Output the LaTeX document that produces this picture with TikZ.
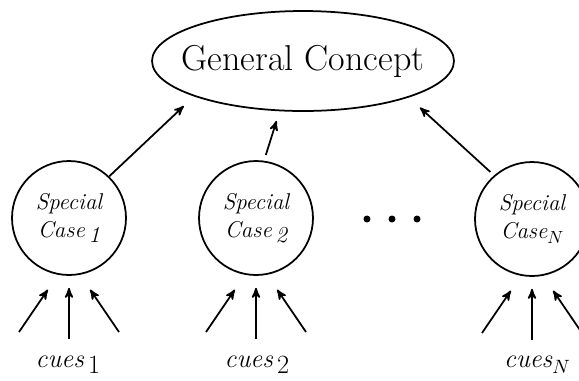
\documentclass[tikz,border=0pt]{standalone}
\usepackage{tikz}
\usetikzlibrary{
        arrows,
        calc,
        positioning,
        shapes.geometric
    }
\tikzset{>=stealth'}
\newcommand{\lowidx}[1]{\raisebox{-0.55ex}{#1}}

\begin{document}
\begin{tikzpicture}[x=0.02cm,y=-0.02cm,line width=1pt,
        concept/.style={ellipse,draw,minimum width=6.04cm,minimum height=2cm,
            inner xsep=-25pt,inner ysep=0pt,font=\fontsize{20.5}{24}\selectfont},
        case/.style={circle,draw,minimum size=2.28cm,inner sep=0pt,align=center,
            font=\fontsize{13}{16}\selectfont\itshape},
        cue/.style={anchor=base,font=\fontsize{15}{18}\selectfont\itshape},
        dot/.style={circle,fill,inner sep=0pt,minimum size=0.14cm}]
    \useasboundingbox (0,0) rectangle (579,380);
    \node[concept] (gc) at (303,61) {General Concept};
    \node[case] (c1) at (69,218) {Special\\Case\,\lowidx{1}};
    \node[case] (c2) at (256,218) {Special\\Case\,\lowidx{2}};
    \node[case] (cN) at (532,219) {Special\\Case\lowidx{\fontsize{10}{12}\selectfont$N$}};
    \node[dot] (d1) at (367,219) {};
    \node[dot] (d2) at (392,219) {};
    \node[dot] (d3) at (417,219) {};
    \node[cue] (q1) at (68,367) {cues\,\lowidx{\upshape 1}};
    \node[cue] (q2) at (257,367) {cues\,\lowidx{\upshape 2}};
    \node[cue] (qN) at (537,367) {cues\lowidx{\fontsize{11}{13}\selectfont$N$}};
    \draw[->,shorten >=0.28cm] (c1.46) -- (gc.198);
    \draw[->,shorten <=0.12cm,shorten >=0.2cm] (c2.82) -- (gc.245);
    \draw[->,shorten <=0.1cm,shorten >=0.3cm] (cN.131) -- (gc.341);
    % cues point up into each case
    \foreach \n in {1,2,N} {
        \coordinate (l\n) at ($(c\n)+(-50,114)$);
        \coordinate (m\n) at ($(c\n)+(0,121)$);
        \coordinate (r\n) at ($(c\n)+(50,114)$);
        \draw[->,shorten >=0.36cm] (l\n) -- (c\n.259);
        \draw[->,shorten >=0.24cm] (m\n) -- (c\n.south);
        \draw[->,shorten >=0.36cm] (r\n) -- (c\n.281);
    }
\end{tikzpicture}
\end{document}
